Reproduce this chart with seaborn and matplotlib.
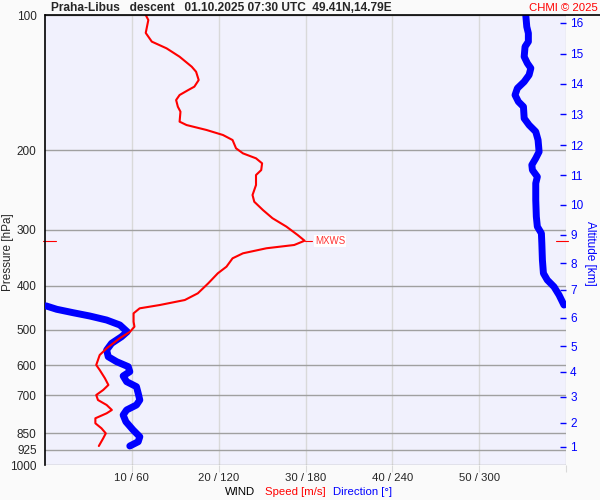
import numpy as np
import pandas as pd
import matplotlib
matplotlib.use("Agg")
import matplotlib.pyplot as plt
import matplotlib.transforms as mtransforms
from matplotlib.ticker import FixedLocator, NullLocator, FixedFormatter
import seaborn as sns

# wind speed profile [m/s] vs pressure [hPa]
speed_p = [100.0, 102.6, 109.6, 114.6, 118.6, 123.8, 130.3, 133.7, 139.5, 144.3,
           146.8, 150.6, 154.5, 159.9, 164.0, 172.6, 175.6, 180.1, 184.8, 189.6,
           197.8, 203.0, 208.2, 213.6, 221.1, 226.8, 238.7, 251.2, 260.0, 271.3,
           282.9, 295.3, 308.3, 317.4, 324.4, 329.9, 338.5, 347.3, 362.5, 375.0,
           394.7, 415.4, 429.9, 441.1, 448.6, 460.2, 480.4, 492.8, 505.6, 522.9,
           550.5, 569.6, 599.5, 615.0, 641.6, 664.0, 681.3, 699.0, 717.1, 735.6,
           754.6, 767.5, 787.4, 807.8, 828.7, 850.5, 872.5, 907.4]
speed_ms = [11.6, 11.9, 11.6, 12.3, 14.0, 15.5, 16.9, 17.4, 17.7, 17.2,
            16.5, 15.5, 15.1, 15.3, 15.6, 15.5, 16.3, 18.6, 20.5, 21.6,
            22.0, 22.8, 24.3, 25.0, 24.9, 24.3, 24.3, 23.9, 24.1, 25.1,
            26.2, 27.8, 29.1, 29.9, 28.7, 25.5, 22.8, 21.6, 20.9, 19.9,
            18.8, 17.6, 16.1, 13.2, 10.9, 10.2, 10.2, 10.3, 9.8, 8.6,
            7.1, 6.3, 5.9, 6.3, 6.9, 7.3, 6.7, 5.9, 6.1, 7.1,
            7.7, 7.1, 5.8, 5.8, 6.5, 7.0, 6.7, 6.2]

# wind direction profile [deg] vs pressure [hPa]
dir_p = [100.0, 106.2, 109.8, 114.6, 117.6, 123.8, 128.0, 131.3, 135.9, 140.7,
         145.5, 150.6, 155.8, 159.9, 169.7, 175.6, 181.7, 189.6, 201.3, 208.2,
         215.4, 221.1, 228.8, 236.6, 257.7, 280.6, 295.3, 305.6, 321.7, 350.4,
         375.0, 388.1, 401.7, 419.0, 441.1,
         443.0, 450.8, 458.8, 466.6, 476.3, 488.5, 505.6, 518.7, 536.6, 555.3,
         574.6, 589.4, 604.6, 620.3, 634.1, 652.9, 669.9, 692.9, 717.1, 735.6,
         754.6, 774.3, 801.3, 836.1, 865.3, 887.7, 907.4]
dir_deg = [332.2, 332.9, 334.0, 334.0, 331.7, 331.1, 333.3, 335.7, 334.5, 331.1,
           326.4, 324.8, 327.1, 330.6, 331.1, 334.5, 339.1, 340.7, 341.4, 339.1,
           336.4, 336.8, 340.2, 339.1, 339.1, 339.5, 340.2, 343.0, 343.3, 343.7,
           344.4, 347.1, 351.7, 355.2, 358.6,
           0.7, 8.1, 19.5, 31.0, 42.6, 51.7, 56.8, 52.9, 46.0, 42.6,
           43.7, 49.5, 57.5, 58.6, 54.0, 56.4, 63.2, 64.4, 65.5, 63.2,
           56.4, 54.0, 55.9, 60.9, 65.5, 64.4, 58.6]

# max wind
mxws_p = 318.0
mxws_speed = 29.9

p_ticks = [100, 200, 300, 400, 500, 600, 700, 850, 925, 1000]
dir_ticks = [60, 120, 180, 240, 300, 360]
dir_labels = ["10 / 60", "20 / 120", "30 / 180", "40 / 240", "50 / 300", ""]
alt_km = list(range(1, 17))
alt_p = [912, 806, 706, 621, 544, 471, 408, 356, 308, 264, 227, 194.5, 166, 142, 122, 104]

df_speed = pd.DataFrame({"p": speed_p, "speed": speed_ms})
df_dir = pd.DataFrame({"p": dir_p, "dir": dir_deg})
df_dir["seg"] = np.cumsum(np.abs(np.diff(df_dir["dir"], prepend=df_dir["dir"][0])) > 180)

sns.set_style("white")
plt.rcParams["font.family"] = ["Liberation Sans", "DejaVu Sans"]
plt.rcParams["font.size"] = 8.5

fig = plt.figure(figsize=(6, 5), dpi=100, facecolor="#fafafa")
rect = [45 / 600, 35 / 500, 521 / 600, 450 / 500]
ax = fig.add_axes(rect, facecolor="#f1f1fd")

# direction on the base axis (under the speed line)
sns.lineplot(data=df_dir, x="dir", y="p", units="seg", estimator=None, sort=False,
             color="#0000ff", lw=5, solid_capstyle="round", ax=ax, zorder=3)
ax.set_yscale("log")
ax.set_ylim(1000, 100)
ax.set_xlim(0, 360)
ax.yaxis.set_major_locator(FixedLocator(p_ticks))
ax.yaxis.set_major_formatter(FixedFormatter([str(t) for t in p_ticks]))
ax.yaxis.set_minor_locator(NullLocator())
ax.set_xticks(dir_ticks)
ax.set_xticklabels(dir_labels)
ax.grid(axis="y", color="#a0a0a0", lw=1)
ax.grid(axis="x", color="#d9d9d9", lw=1)
ax.set_axisbelow(True)
ax.tick_params(axis="x", length=5, color="#d9d9d9", pad=1, labelsize=8.2)
ax.tick_params(axis="y", length=0, pad=6, labelsize=8.5)
ax.set_xlabel("")
ax.set_ylabel("")
for side in ["bottom", "right", "top"]:
    ax.spines[side].set_visible(False)
ax.spines["left"].set_color("black")
ax.spines["left"].set_linewidth(1.2)
fig.text(8 / 600, 1 - 252 / 500, "Pressure [hPa]", fontsize=8.5, rotation=90,
         ha="center", va="center")

# speed on a twin x axis drawn on top
ax_s = ax.twiny()
sns.lineplot(data=df_speed, x="speed", y="p", sort=False, estimator=None,
             color="#ff0000", lw=1.5, ax=ax_s)
ax_s.set_xlim(0, 60)
ax_s.set_ylim(1000, 100)
ax_s.set_xticks([])
ax_s.set_xlabel("")
for s in ax_s.spines.values():
    s.set_visible(False)

# MXWS marker
ax_s.plot([mxws_speed, mxws_speed + 0.9], [mxws_p, mxws_p], color="#ff0000", lw=0.8)
ax_s.text(mxws_speed + 1.2, mxws_p, "MXWS", color="#ff3333", fontsize=7, va="center",
          bbox=dict(facecolor="white", edgecolor="none", pad=0.5))
trans = mtransforms.blended_transform_factory(ax.transAxes, ax.transData)
ax.plot([-0.004, 0.021], [mxws_p, mxws_p], color="#ff0000", lw=0.8, transform=trans, clip_on=False)
ax.plot([0.98, 1.003], [mxws_p, mxws_p], color="#ff0000", lw=0.8, transform=trans, clip_on=False)

# altitude axis on the right
ax_a = ax.twinx()
ax_a.set_yscale("log")
ax_a.set_ylim(1000, 100)
ax_a.yaxis.set_major_locator(FixedLocator(alt_p))
ax_a.yaxis.set_major_formatter(FixedFormatter([str(k) for k in alt_km]))
ax_a.yaxis.set_minor_locator(NullLocator())
ax_a.tick_params(axis="y", direction="in", length=4.5, width=1, color="#0000ff",
                 labelcolor="#0000ff", labelsize=8.5, pad=3)
for s in ax_a.spines.values():
    s.set_visible(False)
fig.text(590 / 600, 1 - 253 / 500, "Altitude [km]", color="#0000ff", fontsize=8.5,
         rotation=-90, ha="center", va="center")

# top black line across
fig.add_artist(plt.Line2D([45 / 600, 1.0], [1 - 15 / 500, 1 - 15 / 500], color="black", lw=1.2))

fig.text(51 / 600, 1 - 8 / 500, "Praha-Libus   descent   01.10.2025 07:30 UTC  49.41N,14.79E",
         fontsize=8.6, fontweight="bold", va="center", ha="left")
fig.text(598 / 600, 1 - 8 / 500, "CHMI © 2025", fontsize=8.2, color="#ff0000", va="center", ha="right")

yb = 1 - 492 / 500
fig.text(225 / 600, yb, "WIND", fontsize=8.2, color="black", va="center")
fig.text(265 / 600, yb, "Speed [m/s]", fontsize=8.2, color="#ff0000", va="center")
fig.text(333 / 600, yb, "Direction [°]", fontsize=8.2, color="#0000ff", va="center")

fig.savefig("out.png", dpi=100, facecolor=fig.get_facecolor())
